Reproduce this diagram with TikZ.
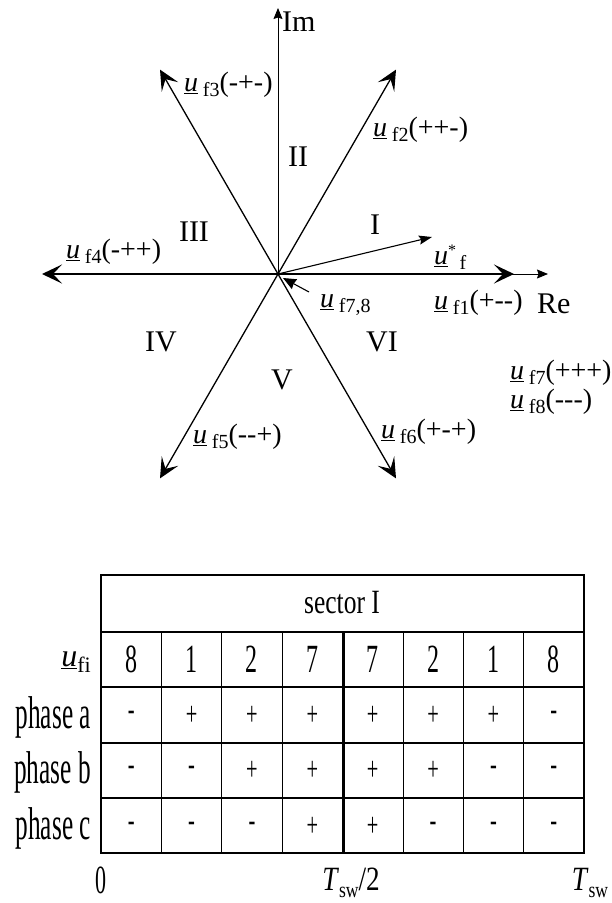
\documentclass[tikz,border=0pt]{standalone}
\usepackage{fontspec}
\setmainfont{Liberation Serif}
\usepackage{graphicx}
\usetikzlibrary{arrows.meta,calc}

% space vector symbol with subscript
\newcommand{\uvf}[1]{\underline{\textit{u}}\,\raisebox{-5pt}{\fontsize{20}{20}\selectfont f#1}}
% narrow table lettering
\newcommand{\cnd}[2][0.58]{\scalebox{#1}[1]{#2}}
\newcommand{\Tsw}{\textit{T}\raisebox{-7pt}{\fontsize{22}{22}\selectfont sw}}

\tikzset{
  vec/.style={line width=1.3pt, -{Stealth[length=20pt,width=19pt,inset=9pt]}},
  axisline/.style={line width=0.9pt, -{Stealth[length=11pt,width=9pt,inset=1.5pt]}},
  refvec/.style={line width=1.1pt, -{Stealth[length=13pt,width=9pt,inset=2pt]}},
  pointer/.style={line width=1.1pt, -{Stealth[length=13pt,width=11pt,inset=1pt]}},
  veclbl/.style={font=\fontsize{28}{30}\selectfont, inner sep=0pt, anchor=west},
  numeral/.style={font=\fontsize{30}{32}\selectfont, inner sep=0pt},
  cell/.style={font=\fontsize{34}{36}\selectfont, inner sep=0pt},
  digit/.style={font=\fontsize{40}{42}\selectfont, inner sep=0pt},
  rowlbl/.style={font=\fontsize{46}{48}\selectfont, inner sep=0pt, anchor=east},
  frame/.style={line width=1.6pt},
  rowline/.style={line width=1.5pt},
  colline/.style={line width=0.7pt}
}

\begin{document}
\begin{tikzpicture}[x=1pt,y=1pt]
  \useasboundingbox (0,0) rectangle (612,-903);

  % axes
  \coordinate (O) at (278,-274);
  \coordinate (imtip) at (278,-8);
  \coordinate (retip) at (548,-274);
  \draw[axisline] (O) -- (imtip);
  \draw[axisline] (O) -- (retip);
  \node[numeral, anchor=west] (im) at (282,-22) {Im};
  \node[numeral, anchor=west] (re) at (537,-304) {Re};

  % active vectors
  \foreach \k in {1,...,6}
    \coordinate (f\k) at ($(O)+({60*(\k-1)}:236)$);
  \foreach \k in {1,...,6}
    \draw[vec] (O) -- (f\k);

  % reference vector
  \coordinate (us) at (432,-237);
  \draw[refvec] (O) -- (us);

  % zero vectors
  \coordinate (p78) at (309,-292);
  \coordinate (q78) at (283,-278);
  \draw[pointer] (p78) -- (q78);

  % vector labels
  \node[veclbl] (l1) at (434,-303) {\uvf{1}(+-{}-)};
  \node[veclbl] (l2) at (373,-130) {\uvf{2}(++-)};
  \node[veclbl] (l3) at (184,-85) {\uvf{3}(-+-)};
  \node[veclbl] (l4) at (66,-252) {\uvf{4}(-++)};
  \node[veclbl] (l5) at (193,-437) {\uvf{5}(-{}-+)};
  \node[veclbl] (l6) at (381,-432) {\uvf{6}(+-+)};
  \node[veclbl] (l78) at (320,-305) {\uvf{7,8}};
  \node[veclbl] (l7) at (510,-373) {\uvf{7}(+++)};
  \node[veclbl] (l8) at (510,-402) {\uvf{8}(-{}-{}-)};
  \node[veclbl] (lus) at (434,-257) {\underline{\textit{u}}\raisebox{9pt}{\fontsize{16}{16}\selectfont *}\raisebox{-5pt}{\fontsize{20}{20}\selectfont\,f}};

  % sectors
  \node[numeral] (s1) at (375,-225) {I};
  \node[numeral] (s2) at (298,-157) {II};
  \node[numeral] (s3) at (194,-232) {III};
  \node[numeral] (s4) at (161,-342) {IV};
  \node[numeral] (s5) at (282,-380) {V};
  \node[numeral] (s6) at (382,-342) {VI};

  % switching table
  \draw[frame] (101,-575) rectangle (584,-853);
  \foreach \y in {632,687,743,798}
    \draw[rowline] (101,-\y) -- (584,-\y);
  \foreach \k in {1,...,7}
    \draw[colline] ({101+60.375*\k},-632) -- ({101+60.375*\k},-853);
  \draw[rowline] (344,-632) -- (344,-853);

  \node[cell] (sec) at (342,-603) {\cnd[0.75]{sector I}};
  \node[rowlbl, font=\fontsize{32}{34}\selectfont] (ufi) at (91,-662)
    {\underline{\textit{u}}\raisebox{-6pt}{\fontsize{22}{22}\selectfont f{}i}};
  \node[rowlbl] (pa) at (91,-717) {\cnd[0.55]{phase a}};
  \node[rowlbl] (pb) at (91,-772) {\cnd[0.55]{phase b}};
  \node[rowlbl] (pc) at (91,-828) {\cnd[0.55]{phase c}};

  \foreach \v [count=\i] in {8,1,2,7,7,2,1,8}
    \node[digit] (v\i) at ({101+60.375*(\i-0.5)},-659) {\cnd[0.6]{\v}};
  \foreach \s [count=\i] in {-,+,+,+,+,+,+,-}
    \node[cell] (a\i) at ({101+60.375*(\i-0.5)},-716) {\cnd[0.6]{\s}};
  \foreach \s [count=\i] in {-,-,+,+,+,+,-,-}
    \node[cell] (b\i) at ({101+60.375*(\i-0.5)},-771) {\cnd[0.6]{\s}};
  \foreach \s [count=\i] in {-,-,-,+,+,-,-,-}
    \node[cell] (c\i) at ({101+60.375*(\i-0.5)},-827) {\cnd[0.6]{\s}};

  % time axis
  \node[digit, anchor=base] (t0) at (101,-893) {\cnd[0.55]{0}};
  \node[cell, anchor=base] (th) at (351,-890) {\cnd[0.8]{\Tsw/2}};
  \node[cell, anchor=base] (tf) at (590,-890) {\cnd[0.8]{\Tsw}};
\end{tikzpicture}
\end{document}
